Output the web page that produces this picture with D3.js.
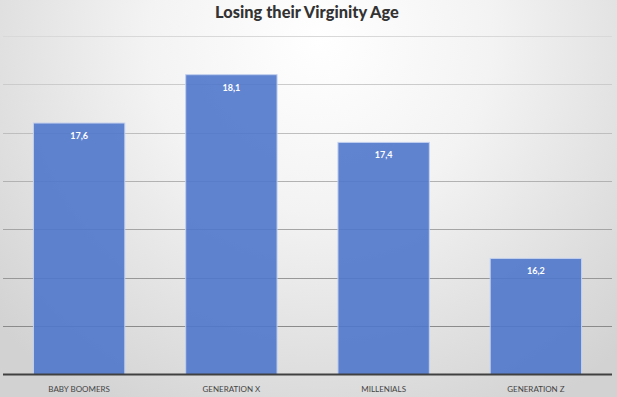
<!DOCTYPE html>
<html>
<head>
<meta charset="utf-8">
<script src="https://cdn.jsdelivr.net/npm/d3@7"></script>
<style>
  body { margin: 0; }
</style>
</head>
<body>
<div id="chart-area"></div>
<script>
const WIDTH = 617
const HEIGHT = 397

// data
const categories = ["BABY BOOMERS", "GENERATION X", "MILLENIALS", "GENERATION Z"]
const ages = [17.6, 18.1, 17.4, 16.2]
const labels = ["17,6", "18,1", "17,4", "16,2"]
const gridTicks = [15.5, 16, 16.5, 17, 17.5, 18, 18.5]

const svg = d3.select("#chart-area").append("svg")
    .attr("width", WIDTH)
    .attr("height", HEIGHT)
    .style("display", "block")

// background gradient
const defs = svg.append("defs")
const bg = defs.append("radialGradient")
    .attr("id", "bg")
    .attr("gradientUnits", "userSpaceOnUse")
    .attr("cx", 320).attr("cy", 40).attr("r", 430)
bg.append("stop").attr("offset", "0%").attr("stop-color", "#ffffff")
bg.append("stop").attr("offset", "40%").attr("stop-color", "#f3f3f3")
bg.append("stop").attr("offset", "100%").attr("stop-color", "#d2d2d2")

const gridGrad = defs.append("linearGradient")
    .attr("id", "gridGrad")
    .attr("gradientUnits", "userSpaceOnUse")
    .attr("x1", 0).attr("y1", 30).attr("x2", 0).attr("y2", 330)
gridGrad.append("stop").attr("offset", "0%").attr("stop-color", "#dadada")
gridGrad.append("stop").attr("offset", "100%").attr("stop-color", "#8a8a8a")

svg.append("rect")
    .attr("width", WIDTH)
    .attr("height", HEIGHT)
    .attr("fill", "url(#bg)")

// scales
const x = d3.scaleBand()
    .domain(categories)
    .range([3, 612])
    .paddingInner(0.4)
    .paddingOuter(0.2)
const y = d3.scaleLinear()
    .domain([15, 18.5])
    .range([374.5, 36])

// gridlines
svg.append("g")
    .selectAll("line")
    .data(gridTicks)
    .join("line")
    .attr("x1", 3)
    .attr("x2", 612)
    .attr("y1", d => Math.round(y(d)) + 0.5)
    .attr("y2", d => Math.round(y(d)) + 0.5)
    .attr("stroke", "url(#gridGrad)")
    .attr("stroke-width", 1)

// bars
svg.append("g")
    .selectAll("rect")
    .data(ages)
    .join("rect")
    .attr("x", (d, i) => x(categories[i]))
    .attr("y", d => y(d))
    .attr("width", x.bandwidth())
    .attr("height", d => y(15) - y(d))
    .attr("fill", "#5077cc")
    .attr("fill-opacity", 0.9)
    .attr("stroke", "#c3d0ee")
    .attr("stroke-width", 1)

// baseline
svg.append("line")
    .attr("x1", 3)
    .attr("x2", 612)
    .attr("y1", y(15))
    .attr("y2", y(15))
    .attr("stroke", "#404040")
    .attr("stroke-width", 2)

// value labels
svg.append("g")
    .selectAll("text")
    .data(ages)
    .join("text")
    .attr("x", (d, i) => x(categories[i]) + x.bandwidth() / 2)
    .attr("y", d => y(d) + 16)
    .attr("text-anchor", "middle")
    .attr("font-family", "Lato, 'Open Sans', sans-serif")
    .attr("font-weight", "bold")
    .attr("font-size", "9px")
    .attr("fill", "#ffffff")
    .text((d, i) => labels[i])

// x axis labels
const xAxisCall = d3.axisBottom(x).tickSize(0).tickPadding(0)
const xAxis = svg.append("g")
    .attr("transform", `translate(0, ${y(15) + 17})`)
    .call(xAxisCall)
xAxis.select(".domain").remove()
xAxis.selectAll("text")
    .attr("dy", 0)
    .attr("font-family", "Lato, 'Open Sans', sans-serif")
    .attr("font-size", "8px")
    .attr("fill", "#444444")

// title
svg.append("text")
    .attr("x", 307)
    .attr("y", 18)
    .attr("text-anchor", "middle")
    .attr("font-family", "Lato, 'Open Sans', sans-serif")
    .attr("font-weight", "900")
    .attr("font-size", "16.4px")
    .attr("fill", "#333333")
    .text("Losing their Virginity Age")
</script>
</body>
</html>
